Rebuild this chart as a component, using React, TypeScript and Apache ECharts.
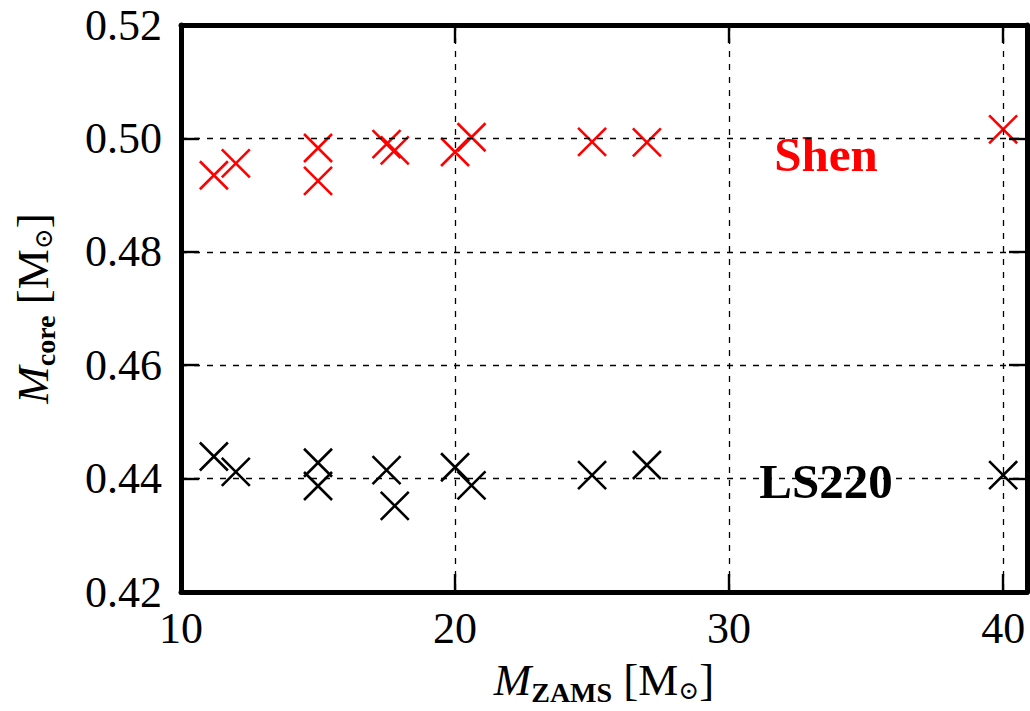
import React, { useEffect, useRef } from "react";
import * as echarts from "echarts";

const massZams: number[] = [11.2, 12, 15, 15, 17.5, 17.8, 20, 20.6, 25, 27, 40];
const shenCore: number[] = [0.4935, 0.4956, 0.4983, 0.4925, 0.499, 0.4979, 0.4976, 0.5002, 0.4994, 0.4993, 0.5016];
const ls220Core: number[] = [0.4439, 0.4412, 0.4428, 0.4387, 0.4415, 0.4352, 0.442, 0.4388, 0.4406, 0.4424, 0.4406];
const xTicks: number[] = [10, 20, 30, 40];
const yTicks: number[] = [0.42, 0.44, 0.46, 0.48, 0.5, 0.52];

const SERIF = "'Liberation Serif', 'DejaVu Serif', serif";
const CROSS = "path://M0,0L28,28M28,0L0,28";

function mkAxisLine() {
  return { show: true, lineStyle: { color: "#000", width: 5 } };
}
function mkAxisTick() {
  return { show: true, inside: true, length: 18, lineStyle: { color: "#000", width: 2.4 } };
}
function mkGridLine() {
  return { show: true, lineStyle: { color: "#000", width: 1.3, type: [6, 7] as any } };
}

export default function App() {
  const ref = useRef<HTMLDivElement>(null);
  useEffect(() => {
    if (!ref.current) return;
    const chart = echarts.init(ref.current, undefined, { renderer: "svg" });
    const xMin = xTicks[0];
    const xMax = 40.87;
    const yMin = yTicks[0];
    const yMax = yTicks[yTicks.length - 1];
    const nameRich = {
      m: { fontFamily: SERIF, fontStyle: "italic", fontSize: 45, color: "#000" },
      sub: { fontFamily: SERIF, fontWeight: "bold", fontSize: 28, color: "#000", padding: [24, 0, 0, 0] },
      t: { fontFamily: SERIF, fontSize: 45, color: "#000" },
      o: { fontFamily: "'DejaVu Serif', serif", fontSize: 25, color: "#000", padding: [20, 0, 0, 0] },
    };
    const option: any = {
      animation: false,
      grid: { left: 181, top: 25, right: 1, bottom: 118 },
      xAxis: [
        {
          type: "value",
          min: xMin,
          max: xMax,
          interval: 10,
          axisLine: mkAxisLine(),
          axisTick: mkAxisTick(),
          splitLine: mkGridLine(),
          axisLabel: {
            margin: 14,
            fontFamily: SERIF,
            fontSize: 44,
            color: "#000",
            formatter: (v: number) => (xTicks.includes(v) ? String(v) : ""),
          },
          name: "{m|M}{sub|ZAMS}{t| [M}{o|⊙}{t|]}",
          nameLocation: "middle",
          nameGap: 62,
          nameTextStyle: { rich: nameRich },
          z: 5,
        },
        {
          type: "value",
          position: "top",
          min: xMin,
          max: xMax,
          interval: 10,
          axisLine: mkAxisLine(),
          axisTick: mkAxisTick(),
          splitLine: { show: false },
          axisLabel: { show: false },
          z: 5,
        },
      ],
      yAxis: [
        {
          type: "value",
          min: yMin,
          max: yMax,
          interval: 0.02,
          axisLine: mkAxisLine(),
          axisTick: mkAxisTick(),
          splitLine: mkGridLine(),
          axisLabel: {
            margin: 19,
            fontFamily: SERIF,
            fontSize: 44,
            color: "#000",
            formatter: (v: number) => v.toFixed(2),
          },
          name: "{m|M}{sub|core}{t| [M}{o|⊙}{t|]}",
          nameLocation: "middle",
          nameRotate: 90,
          nameGap: 122,
          nameTextStyle: { rich: nameRich },
          z: 5,
        },
        {
          type: "value",
          position: "right",
          min: yMin,
          max: yMax,
          interval: 0.02,
          axisLine: mkAxisLine(),
          axisTick: mkAxisTick(),
          splitLine: { show: false },
          axisLabel: { show: false },
          z: 5,
        },
      ],
      series: [
        {
          name: "Shen",
          type: "scatter",
          symbol: CROSS,
          symbolSize: 28,
          itemStyle: { color: "#ff0000", borderColor: "#ff0000", borderWidth: 2.6, opacity: 1 },
          data: massZams.map((x, i) => [x, shenCore[i]]),
        },
        {
          name: "LS220",
          type: "scatter",
          symbol: CROSS,
          symbolSize: 28,
          itemStyle: { color: "#000", borderColor: "#000", borderWidth: 2.6, opacity: 1 },
          data: massZams.map((x, i) => [x, ls220Core[i]]),
        },
      ],
      graphic: [
        {
          type: "text",
          x: 826,
          y: 154,
          style: {
            text: "Shen",
            fill: "#ff0000",
            font: `bold 49px ${SERIF}`,
            align: "center",
            verticalAlign: "middle",
          },
        },
        {
          type: "text",
          x: 826,
          y: 481,
          style: {
            text: "LS220",
            fill: "#000",
            font: `bold 49px ${SERIF}`,
            align: "center",
            verticalAlign: "middle",
          },
        },
      ],
    };
    chart.setOption(option);
    return () => chart.dispose();
  }, []);
  return (
    <div
      ref={ref}
      style={{ position: "fixed", left: 0, top: 0, width: 1030, height: 711, background: "#fff" }}
    />
  );
}
